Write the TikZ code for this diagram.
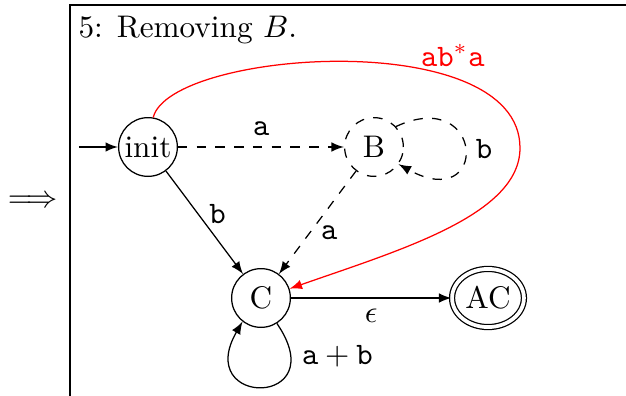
\documentclass[tikz,border=0pt]{standalone}
\usetikzlibrary{shapes.geometric}
\begin{document}
\begin{tikzpicture}[x=0.32pt,y=-0.32pt,>=latex,
  stnode/.style={circle,draw,minimum size=18.8pt,inner sep=0.5pt},
  finnode/.style={ellipse,draw,double,double distance=1.2pt,minimum width=23pt,minimum height=18.6pt,inner sep=0.5pt}]
\useasboundingbox (0,0) rectangle (626,396);
% frame
\draw (70,396) -- (70,5) -- (626,5);
\node (imp) at (33,202) {$\Longrightarrow$};
\node[anchor=base west,inner sep=0pt] (title) at (78,37) {5: Removing $B$.};
% states
\node[stnode] (init) at (148,147) {init};
\node[stnode,dashed] (B) at (374,147) {B};
\node[stnode] (C) at (261,298) {C};
\node[finnode] (AC) at (488,298) {AC};
\coordinate (start) at (79,147);
% transitions
\draw[->] (start) -- (init);
\draw[->,dashed] (init) -- node[above] {$\mathtt{a}$} (B);
\draw[->] (init) -- node[pos=0.42,right] {$\mathtt{b}$} (C);
\draw[->,dashed] (B) -- node[pos=0.6,right] {$\mathtt{a}$} (C);
\draw[->] (C) -- node[below] {$\epsilon$} (AC);
\draw[->,dashed] (B.43) .. controls (485,85) and (490,215) .. node[right] {$\mathtt{b}$} (B.-35);
\draw[->] (C.-58) .. controls (335,408) and (192,408) .. node[pos=0.15,right] {$\mathtt{a}+\mathtt{b}$} (C.-128);
%\draw[->,red] (init) to[out=80,in=20] (C);
\draw[->,red] (init.80) .. controls (170,50) and (520,25) .. (520,148)
  node[pos=0.72,above] {$\mathtt{ab}^*\mathtt{a}$}
  .. controls (520,215) and (400,250) .. (C.18);
\end{tikzpicture}
\end{document}
